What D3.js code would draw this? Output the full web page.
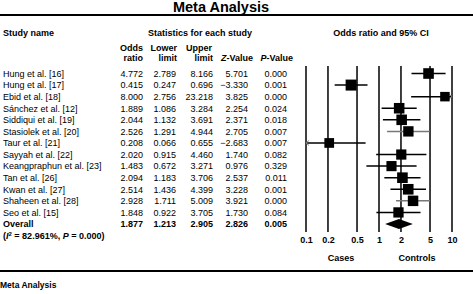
<!DOCTYPE html>
<html>
<head>
<meta charset="utf-8">
<script src="https://cdn.jsdelivr.net/npm/d3@7"></script>
<style>
  body { margin: 0; background: #fff; }
  text { font-family: "Liberation Sans", Arial, sans-serif; fill: #000; }
</style>
</head>
<body>
<div id="chart"></div>
<script>
// set the dimensions of the page
var width = 473,
    height = 294

// the studies and their statistics
var studies = ['Hung et al. [16]', 'Hung et al. [17]', 'Ebid et al. [18]', 'Sánchez et al. [12]',
               'Siddiqui et al. [19]', 'Stasiolek et al. [20]', 'Taur et al. [21]', 'Sayyah et al. [22]',
               'Keangpraphun et al. [23]', 'Tan et al. [26]', 'Kwan et al. [27]', 'Shaheen et al. [28]',
               'Seo et al. [15]']
var oddsRatio = [4.772, 0.415, 8.000, 1.889, 2.044, 2.526, 0.208, 2.020, 1.483, 2.094, 2.514, 2.928, 1.848]
var lowerLimit = [2.789, 0.247, 2.756, 1.086, 1.132, 1.291, 0.066, 0.915, 0.672, 1.183, 1.436, 1.711, 0.922]
var upperLimit = [8.166, 0.696, 23.218, 3.284, 3.691, 4.944, 0.655, 4.460, 3.271, 3.706, 4.399, 5.009, 3.705]
var zValue = [5.701, -3.330, 3.825, 2.254, 2.371, 2.705, -2.683, 1.740, 0.976, 2.537, 3.228, 3.921, 1.730]
var pValue = [0.000, 0.001, 0.000, 0.024, 0.018, 0.007, 0.007, 0.082, 0.329, 0.011, 0.001, 0.000, 0.084]
// relative weights (%)
var weights = [8.0, 8.6, 6.4, 7.9, 7.9, 7.6, 6.7, 7.4, 7.3, 8.0, 8.0, 7.8, 7.5]

var overall = { or: 1.877, lower: 1.213, upper: 2.905, z: 2.826, p: 0.005 }
var heterogeneity = { i2: '82.961%', p: '0.000' }

var tickValues = [0.1, 0.2, 0.5, 1, 2, 5, 10]

var svg = d3.select("#chart")
            .append("svg")
            .attr("width", width)
            .attr("height", height)

// title and rules
svg.append("text")
   .attr("x", 221).attr("y", 11.5)
   .attr("text-anchor", "middle")
   .style("font-size", "14.5px").style("font-weight", "bold")
   .text("Meta Analysis")

svg.append("line").attr("x1", 0).attr("x2", width).attr("y1", 15).attr("y2", 15)
   .attr("stroke", "#000").attr("stroke-width", 2)
svg.append("line").attr("x1", 0).attr("x2", width).attr("y1", 271).attr("y2", 271)
   .attr("stroke", "#000").attr("stroke-width", 2)

svg.append("text")
   .attr("x", 0).attr("y", 288)
   .style("font-size", "8.5px").style("font-weight", "bold")
   .text("Meta Analysis")

// row scale
var y = d3.scaleLinear()
          .domain([0, studies.length])
          .range([73.5, 224])

var fs = "9px"

// header
function header(x, yy, txt, anchor) {
  return svg.append("text")
     .attr("x", x).attr("y", yy)
     .attr("text-anchor", anchor || "end")
     .style("font-size", fs).style("font-weight", "bold")
     .text(txt)
}
header(3, 36, "Study name", "start")
header(200, 36, "Statistics for each study", "middle")
header(381, 36, "Odds ratio and 95% CI", "middle")

var cols = [143, 176, 213, 248, 287]
header(143, 51, "Odds")
header(143, 61, "ratio")
header(177, 51, "Lower")
header(177, 61, "limit")
header(212, 51, "Upper")
header(213, 61, "limit")
var zh = header(253, 61, "")
zh.append("tspan").style("font-style", "italic").text("Z")
zh.append("tspan").text("-Value")
var ph = header(293, 61, "")
ph.append("tspan").style("font-style", "italic").text("P")
ph.append("tspan").text("-Value")

// table rows
var fmt = d3.format(".3f")
var rowG = svg.selectAll("g.row")
              .data(studies)
              .enter()
              .append("g")
              .attr("class", "row")
              .attr("transform", function(d, i) { return "translate(0," + (y(i) + 3.3) + ")" })

rowG.append("text").attr("x", 3).style("font-size", fs).text(function(d) { return d })
var colData = [oddsRatio, lowerLimit, upperLimit, zValue, pValue]
colData.forEach(function(arr, c) {
  rowG.append("text")
      .attr("x", cols[c])
      .attr("text-anchor", "end")
      .style("font-size", fs)
      .text(function(d, i) { return fmt(arr[i]) })
})

// overall row
var oy = y(studies.length) + 3.3
svg.append("text").attr("x", 3).attr("y", oy)
   .style("font-size", fs).style("font-weight", "bold").text("Overall")
;[overall.or, overall.lower, overall.upper, overall.z, overall.p].forEach(function(v, c) {
  svg.append("text").attr("x", cols[c]).attr("y", oy)
     .attr("text-anchor", "end")
     .style("font-size", fs).style("font-weight", "bold")
     .text(fmt(v))
})
var het = svg.append("text").attr("x", 3).attr("y", oy + 11.5)
   .style("font-size", fs).style("font-weight", "bold")
het.append("tspan").text("(")
het.append("tspan").style("font-style", "italic").text("I")
het.append("tspan").attr("dy", -3).style("font-size", "6px").text("2")
het.append("tspan").attr("dy", 3).text(" = " + heterogeneity.i2 + ", ")
het.append("tspan").style("font-style", "italic").text("P")
het.append("tspan").text(" = " + heterogeneity.p + ")")

// forest plot
var x = d3.scaleLog()
          .domain([0.1, 10])
          .range([306, 452])

var plotTop = 66, plotBottom = 232

svg.selectAll("line.grid")
   .data(tickValues)
   .enter()
   .append("line")
   .attr("class", "grid")
   .attr("x1", function(d) { return x(d) })
   .attr("x2", function(d) { return x(d) })
   .attr("y1", plotTop)
   .attr("y2", plotBottom)
   .attr("stroke", "#000")
   .attr("stroke-width", 1.5)

var axis = d3.axisBottom(x)
             .tickValues(tickValues)
             .tickSize(0)
             .tickFormat(d3.format("~g"))
var axisG = svg.append("g")
               .attr("transform", "translate(0," + (plotBottom + 2) + ")")
               .call(axis)
axisG.select(".domain").remove()
axisG.selectAll("text")
     .style("font-size", fs).style("font-weight", "bold")
     .attr("font-family", null)

svg.append("text").attr("x", 341).attr("y", 261).attr("text-anchor", "middle")
   .style("font-size", fs).style("font-weight", "bold").text("Cases")
svg.append("text").attr("x", 417).attr("y", 261).attr("text-anchor", "middle")
   .style("font-size", fs).style("font-weight", "bold").text("Controls")

// confidence intervals, clipped at the plot edges
var lineColor = function(i) { return (i === 5 || i === 11) ? "#777" : "#000" }
var clamp = function(v) { return Math.max(0.1, Math.min(10, v)) }

svg.selectAll("line.ci")
   .data(studies)
   .enter()
   .append("line")
   .attr("class", "ci")
   .attr("x1", function(d, i) { return x(clamp(lowerLimit[i])) })
   .attr("x2", function(d, i) { return x(clamp(upperLimit[i])) })
   .attr("y1", function(d, i) { return y(i) })
   .attr("y2", function(d, i) { return y(i) })
   .attr("stroke", function(d, i) { return lineColor(i) })
   .attr("stroke-width", 1.5)

// arrows where the interval runs off the plot
studies.forEach(function(d, i) {
  if (upperLimit[i] > 10) {
    var xe = x(10)
    svg.append("path")
       .attr("d", "M" + (xe - 3) + "," + (y(i) - 2.5) + "L" + xe + "," + y(i) + "L" + (xe - 3) + "," + (y(i) + 2.5))
       .attr("fill", "none").attr("stroke", "#888")
  }
  if (lowerLimit[i] < 0.1) {
    var xs = x(0.1)
    svg.append("path")
       .attr("d", "M" + (xs + 3) + "," + (y(i) - 2.5) + "L" + xs + "," + y(i) + "L" + (xs + 3) + "," + (y(i) + 2.5))
       .attr("fill", "none").attr("stroke", "#888")
  }
})

// boxes sized by weight
var size = d3.scaleSqrt()
             .domain([0, d3.max(weights)])
             .range([0, 11])

svg.selectAll("rect.box")
   .data(studies)
   .enter()
   .append("rect")
   .attr("class", "box")
   .attr("x", function(d, i) { return x(oddsRatio[i]) - size(weights[i]) / 2 })
   .attr("y", function(d, i) { return y(i) - size(weights[i]) / 2 })
   .attr("width", function(d, i) { return size(weights[i]) })
   .attr("height", function(d, i) { return size(weights[i]) })
   .attr("fill", "#000")

// overall diamond
var dy = y(studies.length)
svg.append("path")
   .attr("d", "M" + x(overall.lower) + "," + dy +
              "L" + x(overall.or) + "," + (dy - 5) +
              "L" + x(overall.upper) + "," + dy +
              "L" + x(overall.or) + "," + (dy + 5) + "Z")
   .attr("fill", "#000")
</script>
</body>
</html>
